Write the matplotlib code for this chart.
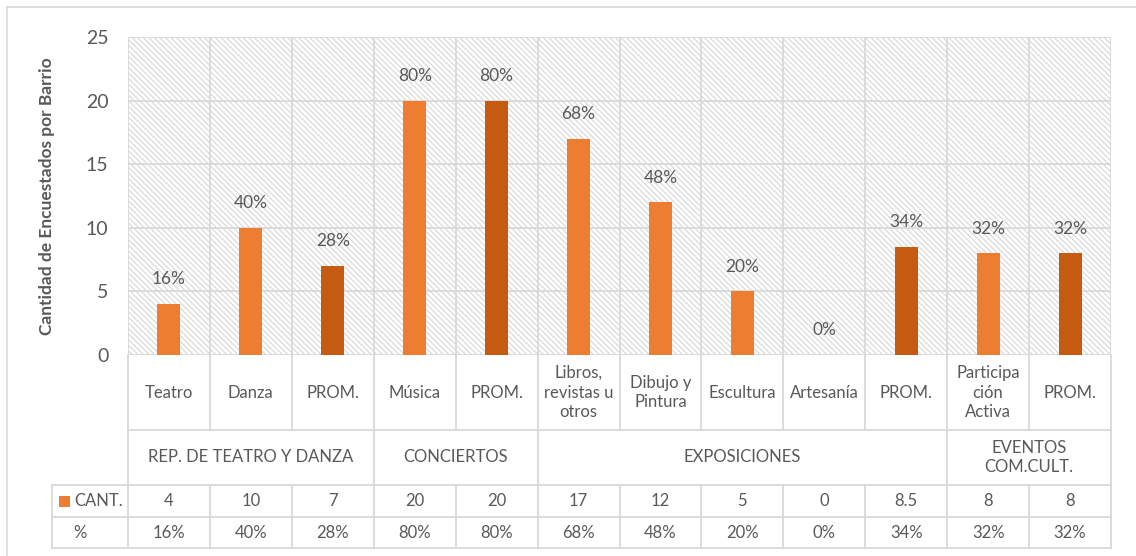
import matplotlib.pyplot as plt
from matplotlib.patches import Rectangle
from matplotlib.lines import Line2D

plt.rcParams["font.family"] = ["Lato", "DejaVu Sans"]
plt.rcParams["hatch.linewidth"] = 0.8

# Datos
categorias = ["Teatro", "Danza", "PROM.", "Música", "PROM.",
              "Libros,\nrevistas u\notros", "Dibujo y\nPintura", "Escultura",
              "Artesanía", "PROM.", "Participa\nción\nActiva", "PROM."]
cantidades = [4, 10, 7, 20, 20, 17, 12, 5, 0, 8.5, 8, 8]
cant_txt = ["4", "10", "7", "20", "20", "17", "12", "5", "0", "8.5", "8", "8"]
porcentajes = [16, 40, 28, 80, 80, 68, 48, 20, 0, 34, 32, 32]
grupos = ["REP. DE TEATRO Y DANZA", "CONCIERTOS", "EXPOSICIONES", "EVENTOS\nCOM.CULT."]
grupo_tam = [3, 2, 5, 2]
yticks = [0, 5, 10, 15, 20, 25]

C_CLARO = "#ED7D31"
C_OSCURO = "#C55A11"
GRIS = "#D9D9D9"
TXT = "#595959"

W, H = 1136, 556
fig = plt.figure(figsize=(W / 100, H / 100), dpi=100)

def px(x0, y0, x1, y1):
    # caja en pixeles (desde arriba) -> fraccion de figura
    return [x0 / W, 1 - y1 / H, (x1 - x0) / W, (y1 - y0) / H]

# marco del grafico
fig.add_artist(Line2D([7 / W, 7 / W], [0, 1 - 7 / H], color=GRIS, lw=1.2))
fig.add_artist(Line2D([7 / W, 1], [1 - 7 / H, 1 - 7 / H], color=GRIS, lw=1.2))

n = len(categorias)
xs = list(range(n))
x_left, x_right = -0.5, n - 0.5

ax = fig.add_axes(px(128, 37, 1111, 355))
ax.set_xlim(x_left, x_right)
ax.set_ylim(0, 25)

# fondo rayado
ax.add_patch(Rectangle((0, 0), 1, 1, transform=ax.transAxes, facecolor="white",
                       edgecolor="#D6D6D6", hatch="\\\\\\\\\\\\", lw=0, zorder=0))

for y in yticks:
    ax.axhline(y, color=GRIS, lw=1.3, zorder=1)
for i in range(n + 1):
    ax.axvline(i - 0.5, color=GRIS, lw=1.3, zorder=1)

colores = [C_OSCURO if c == "PROM." else C_CLARO for c in categorias]
ax.bar(xs, cantidades, width=0.28, color=colores, zorder=3)

for x, v, p in zip(xs, cantidades, porcentajes):
    ax.annotate(f"{p}%", (x, v), xytext=(0, 12), textcoords="offset points",
                ha="center", va="bottom", fontsize=12.5, color=TXT)

for s in ax.spines.values():
    s.set_visible(False)
ax.set_xticks([])
ax.set_yticks(yticks)
ax.tick_params(axis="y", length=0, pad=14, labelsize=14, labelcolor=TXT)
ax.set_ylabel("Cantidad de Encuestados por Barrio", fontsize=12.5,
              fontweight="bold", color=TXT)
ax.yaxis.set_label_coords(-0.074, 0.5)

# tabla de datos
tb = fig.add_axes(px(128, 355, 1111, 548))
tb.set_xlim(x_left, x_right)
tb.set_ylim(193, 0)
tb.axis("off")
filas = [0, 75, 130, 162, 193]
x_leg = x_left - 76 / 81.9

def linea(xa, ya, xb, yb):
    tb.add_line(Line2D([xa, xb], [ya, yb], color=GRIS, lw=1.3, clip_on=False))

linea(x_left, filas[1], x_right, filas[1])
for fy in filas[2:]:
    linea(x_leg, fy, x_right, fy)
linea(x_leg, filas[2], x_leg, filas[4])
for i in range(n + 1):
    linea(i - 0.5, filas[0], i - 0.5, filas[1])
    linea(i - 0.5, filas[2], i - 0.5, filas[4])

ini = 0
linea(ini - 0.5, filas[1], ini - 0.5, filas[2])
for g, t in zip(grupos, grupo_tam):
    tb.text(ini + t / 2 - 0.5, (filas[1] + filas[2]) / 2, g, ha="center",
            va="center", fontsize=12, color=TXT, linespacing=1.3)
    ini += t
    linea(ini - 0.5, filas[1], ini - 0.5, filas[2])

for x, c, ct, p in zip(xs, categorias, cant_txt, porcentajes):
    tb.text(x, (filas[0] + filas[1]) / 2, c, ha="center", va="center",
            fontsize=12, color=TXT, linespacing=1.3)
    tb.text(x, (filas[2] + filas[3]) / 2, ct, ha="center", va="center",
            fontsize=12, color=TXT)
    tb.text(x, (filas[3] + filas[4]) / 2, f"{p}%", ha="center", va="center",
            fontsize=12, color=TXT)

# leyenda dentro de la tabla
tb.add_patch(Rectangle((x_leg + 7 / 81.9, (filas[2] + filas[3]) / 2 - 5.5),
                       11 / 81.9, 11, facecolor=C_CLARO, lw=0, clip_on=False))
tb.text(x_leg + 22 / 81.9, (filas[2] + filas[3]) / 2, "CANT.", ha="left",
        va="center", fontsize=12, color=TXT)
tb.text(x_leg + 28 / 81.9, (filas[3] + filas[4]) / 2, "%", ha="center",
        va="center", fontsize=12, color=TXT)

fig.savefig("out.png", dpi=100)
